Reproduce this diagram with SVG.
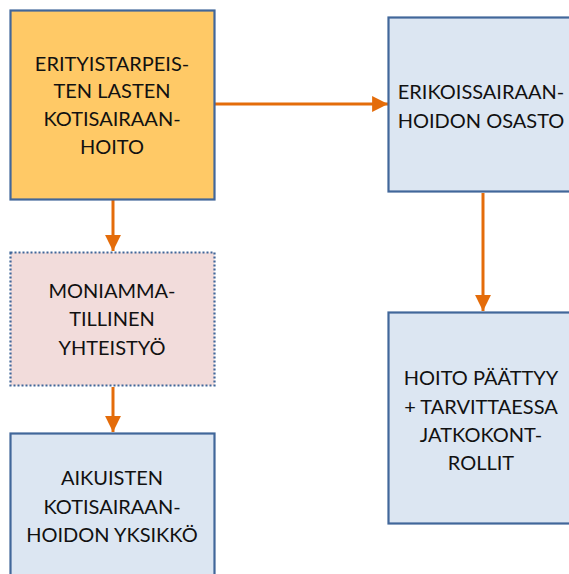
<svg xmlns="http://www.w3.org/2000/svg" width="569" height="574" viewBox="0 0 569 574">
<style>
.box{stroke:#41679A;stroke-width:2.2}
.blue{fill:#DCE6F2}
.t{font-family:Lato,"Open Sans",sans-serif;font-size:20px;fill:#111;text-anchor:middle}
.c{stroke:#E46C0A;stroke-width:3;fill:none}
</style>
<defs>
<marker id="ah" viewBox="0 0 10 10" refX="10" refY="5" markerWidth="5.3" markerHeight="5.3" orient="auto" markerUnits="strokeWidth">
<path d="M0,0 L10,5 L0,10 z" fill="#E46C0A"/>
</marker>
</defs>
<g id="connectors">
<line class="c" x1="215" y1="104" x2="388" y2="104" marker-end="url(#ah)"/>
<line class="c" x1="113" y1="200" x2="113" y2="251" marker-end="url(#ah)"/>
<line class="c" x1="113" y1="387" x2="113" y2="432" marker-end="url(#ah)"/>
<line class="c" x1="483" y1="193" x2="483" y2="311" marker-end="url(#ah)"/>
</g>
<g id="n1">
<rect class="box" x="10.5" y="10.5" width="204" height="189" fill="#FFC966"/>
<text class="t" x="112" y="70.5">ERITYISTARPEIS-</text>
<text class="t" x="112" y="98.3">TEN LASTEN</text>
<text class="t" x="112" y="126">KOTISAIRAAN-</text>
<text class="t" x="112" y="154">HOITO</text>
</g>
<g id="n2">
<rect x="10.5" y="252.5" width="204" height="133" fill="#F2DCDB" stroke="#41679A" stroke-width="2.2" stroke-dasharray="2,2"/>
<text class="t" x="112" y="297.5">MONIAMMA-</text>
<text class="t" x="112" y="326">TILLINEN</text>
<text class="t" x="112" y="355">YHTEISTYÖ</text>
</g>
<g id="n3">
<rect class="box blue" x="10.5" y="433.5" width="204" height="150"/>
<text class="t" x="112" y="485">AIKUISTEN</text>
<text class="t" x="112" y="513.5">KOTISAIRAAN-</text>
<text class="t" x="112" y="542">HOIDON YKSIKKÖ</text>
</g>
<g id="n4">
<rect class="box blue" x="388.5" y="17.5" width="190" height="174"/>
<text class="t" x="481" y="98.5">ERIKOISSAIRAAN-</text>
<text class="t" x="481" y="127.5">HOIDON OSASTO</text>
</g>
<g id="n5">
<rect class="box blue" x="388.5" y="312.5" width="190" height="211"/>
<text class="t" x="481" y="385">HOITO PÄÄTTYY</text>
<text class="t" x="481" y="413.5">+ TARVITTAESSA</text>
<text class="t" x="481" y="442">JATKOKONT-</text>
<text class="t" x="481" y="470">ROLLIT</text>
</g>
</svg>
